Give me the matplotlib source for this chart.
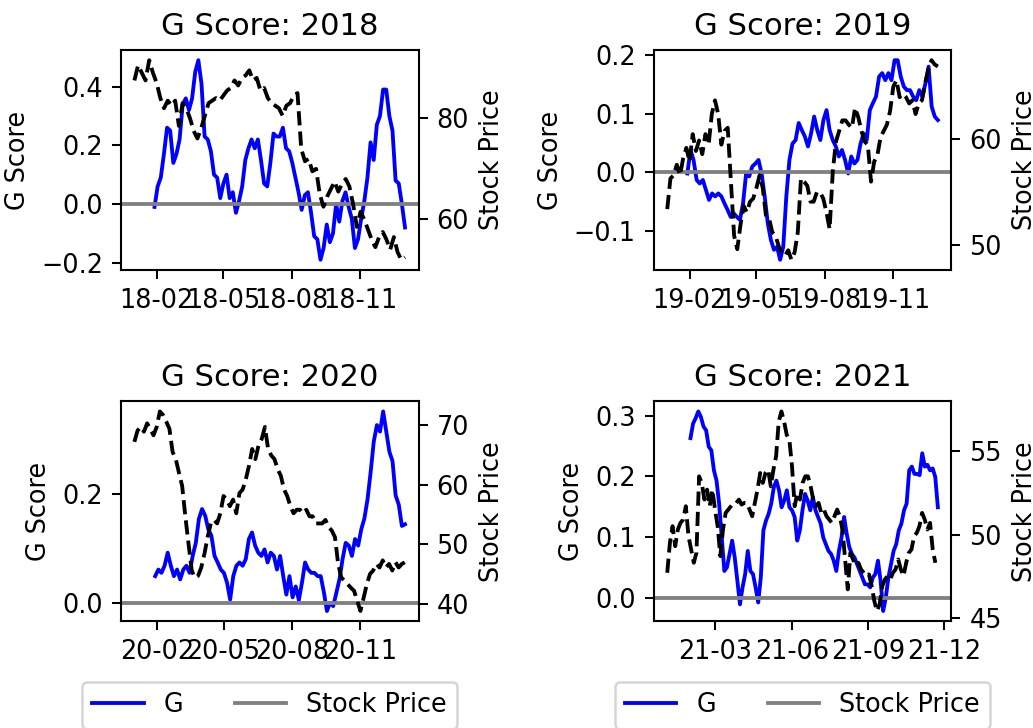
import pandas as pd
import matplotlib
matplotlib.use('Agg')
import matplotlib.pyplot as plt
import matplotlib.dates as mdates

years = [2018, 2019, 2020, 2021]

# daily close, sampled every few trading days
price_2018 = [87.5, 90.5, 89.0, 87.5, 91.5, 89.0, 87.0, 84.0, 82.0, 83.5,
              82.5, 83.5, 78.5, 83.0, 82.0, 80.0, 77.5, 76.0, 78.0, 80.5,
              83.0, 83.5, 84.0, 83.5, 84.5, 85.5, 86.0, 87.5, 86.5, 88.0,
              88.5, 89.5, 87.5, 88.0, 85.5, 86.0, 84.0, 83.0, 82.5, 82.0,
              80.5, 82.5, 83.0, 84.5, 85.0, 74.0, 71.5, 72.0, 69.5, 70.0,
              65.0, 62.5, 64.5, 66.0, 67.5, 65.5, 67.0, 68.0, 66.5, 63.0,
              58.5, 61.5, 60.0, 58.0, 56.0, 54.5, 56.5, 57.5, 56.0, 54.0,
              56.5, 53.5, 52.0, 52.5]
g_2018 = [-0.01, 0.06, 0.09, 0.17, 0.26, 0.25, 0.14, 0.17, 0.22, 0.34,
          0.36, 0.32, 0.36, 0.45, 0.49, 0.41, 0.23, 0.22, 0.18, 0.10,
          0.09, 0.02, 0.07, 0.10, 0.02, 0.04, -0.03, 0.01, 0.06, 0.15,
          0.19, 0.22, 0.19, 0.22, 0.15, 0.07, 0.06, 0.14, 0.24, 0.23,
          0.23, 0.26, 0.19, 0.18, 0.14, 0.09, 0.04, -0.02, 0.03, 0.04,
          -0.03, -0.11, -0.12, -0.19, -0.15, -0.07, -0.13, -0.10, 0.00, -0.06,
          0.01, 0.04, -0.01, -0.05, -0.15, -0.12, -0.05, 0.01, 0.09, 0.21,
          0.15, 0.27, 0.30, 0.39, 0.39, 0.30, 0.25, 0.08, 0.07, -0.00,
          -0.08]

price_2019 = [53.4, 56.3, 56.6, 57.6, 56.6, 58.2, 59.2, 57.9, 60.5, 58.9,
              59.9, 58.6, 60.5, 59.5, 62.4, 63.7, 62.4, 59.5, 60.8, 61.1,
              56.0, 50.9, 49.6, 51.9, 53.7, 53.1, 54.1, 54.4, 55.4, 56.6,
              55.4, 52.8, 52.5, 51.2, 50.9, 49.9, 49.3, 49.0, 49.5, 48.6,
              49.3, 51.2, 56.3, 56.0, 55.6, 54.1, 54.1, 55.0, 55.0, 54.4,
              53.1, 51.5, 57.0, 59.8, 60.8, 61.8, 61.8, 61.4, 61.1, 63.0,
              62.1, 60.8, 59.8, 59.5, 56.0, 57.9, 58.5, 60.2, 60.8, 61.4,
              62.7, 65.0, 65.6, 64.0, 64.3, 64.0, 63.4, 63.7, 62.4, 63.4,
              63.7, 65.3, 66.6, 67.5, 67.1, 66.9]
g_2019 = [-0.002, 0.038, 0.021, -0.013, -0.019, -0.013, -0.030, -0.047, -0.036, -0.041,
          -0.036, -0.041, -0.053, -0.064, -0.076, -0.070, -0.076, -0.081, -0.053, -0.002,
          -0.007, 0.010, 0.015, 0.021, -0.002, -0.041, -0.087, -0.115, -0.132, -0.127,
          -0.149, -0.127, -0.041, 0.021, 0.049, 0.055, 0.084, 0.072, 0.061, 0.044,
          0.066, 0.095, 0.072, 0.055, 0.089, 0.106, 0.072, 0.055, 0.044, 0.027,
          0.038, 0.021, -0.002, 0.027, 0.015, 0.021, 0.049, 0.066, 0.055, 0.106,
          0.118, 0.129, 0.163, 0.169, 0.157, 0.169, 0.157, 0.191, 0.191, 0.163,
          0.146, 0.140, 0.140, 0.129, 0.123, 0.140, 0.129, 0.152, 0.180, 0.112,
          0.095, 0.089]

price_2020 = [67.2, 69.1, 69.7, 68.9, 70.3, 69.4, 68.3, 69.7, 72.3, 71.7,
              70.6, 69.4, 65.5, 64.3, 62.0, 59.8, 54.7, 50.1, 45.6, 44.4,
              44.7, 46.1, 48.4, 51.2, 53.5, 54.1, 53.5, 55.2, 58.1, 57.5,
              56.4, 57.5, 55.2, 58.6, 59.2, 60.9, 63.2, 66.0, 64.3, 66.6,
              67.7, 69.7, 66.0, 64.9, 64.3, 62.6, 61.5, 59.2, 58.1, 56.4,
              55.2, 55.8, 55.8, 55.2, 55.8, 54.7, 54.7, 53.5, 53.5, 53.5,
              54.1, 52.9, 52.3, 51.2, 46.7, 44.4, 43.9, 43.3, 42.7, 42.2,
              40.5, 38.8, 41.0, 43.3, 45.0, 45.6, 46.7, 46.1, 47.3, 46.1,
              46.7, 45.6, 47.0, 46.1, 46.7, 47.0]
g_2020 = [0.049, 0.061, 0.055, 0.068, 0.092, 0.068, 0.049, 0.061, 0.043, 0.061,
          0.068, 0.055, 0.086, 0.110, 0.154, 0.172, 0.160, 0.135, 0.123, 0.086,
          0.074, 0.061, 0.055, 0.037, 0.006, 0.049, 0.068, 0.074, 0.068, 0.080,
          0.117, 0.129, 0.105, 0.092, 0.086, 0.098, 0.074, 0.092, 0.086, 0.061,
          0.086, 0.049, 0.015, 0.049, 0.010, 0.030, 0.005, 0.037, 0.074, 0.061,
          0.055, 0.055, 0.049, 0.049, 0.020, -0.015, 0.000, -0.006, 0.018, 0.043,
          0.080, 0.110, 0.105, 0.086, 0.117, 0.105, 0.135, 0.155, 0.190, 0.240,
          0.296, 0.326, 0.314, 0.351, 0.314, 0.277, 0.260, 0.197, 0.180, 0.141,
          0.144]

price_2021 = [47.7, 49.5, 50.5, 49.3, 50.3, 50.7, 50.9, 51.7, 49.9, 49.1,
              48.3, 48.9, 53.5, 53.1, 52.1, 52.7, 51.7, 52.7, 51.5, 50.5,
              48.7, 50.3, 51.3, 51.5, 51.7, 51.9, 51.9, 52.1, 51.8, 51.9,
              51.9, 51.5, 51.1, 51.9, 52.7, 53.7, 53.1, 53.7, 53.9, 52.9,
              53.9, 54.7, 56.8, 57.4, 56.8, 56.0, 55.7, 54.1, 51.7, 52.5,
              52.1, 53.1, 53.5, 53.5, 52.9, 52.1, 51.7, 51.9, 51.3, 51.5,
              51.1, 50.9, 50.7, 51.1, 51.5, 51.1, 50.3, 48.5, 46.7, 48.9,
              48.5, 48.1, 48.3, 47.9, 47.7, 47.5, 47.6, 46.9, 46.0, 45.4,
              45.8, 46.9, 47.3, 47.5, 47.3, 47.7, 47.9, 48.5, 47.9, 47.5,
              48.3, 48.9, 49.1, 49.9, 50.1, 50.5, 51.3, 50.9, 50.3, 50.7,
              49.1, 48.3]
g_2021 = [0.263, 0.287, 0.296, 0.307, 0.298, 0.282, 0.276, 0.249, 0.243, 0.210,
          0.193, 0.155, 0.100, 0.044, 0.050, 0.072, 0.094, 0.066, 0.028, -0.011,
          0.017, 0.039, 0.077, 0.044, 0.039, 0.017, -0.008, 0.033, 0.111, 0.127,
          0.138, 0.155, 0.182, 0.193, 0.177, 0.149, 0.160, 0.177, 0.149, 0.144,
          0.133, 0.094, 0.111, 0.144, 0.171, 0.160, 0.144, 0.166, 0.144, 0.133,
          0.122, 0.099, 0.088, 0.077, 0.072, 0.061, 0.044, 0.077, 0.099, 0.133,
          0.105, 0.083, 0.072, 0.066, 0.055, 0.044, 0.033, 0.022, 0.022, 0.017,
          0.033, 0.039, 0.061, 0.028, -0.022, 0.000, 0.033, 0.055, 0.077, 0.088,
          0.111, 0.122, 0.144, 0.155, 0.210, 0.216, 0.204, 0.204, 0.202, 0.238,
          0.216, 0.219, 0.210, 0.213, 0.199, 0.149]

prices = [price_2018, price_2019, price_2020, price_2021]
scores = [g_2018, g_2019, g_2020, g_2021]
price_spans = [('2018-01-02', '2018-12-31'), ('2019-01-02', '2019-12-31'),
               ('2020-01-02', '2020-12-31'), ('2021-01-02', '2021-11-21')]
score_spans = [('2018-01-29', '2018-12-31'), ('2019-01-29', '2019-12-31'),
               ('2020-01-30', '2020-12-31'), ('2021-01-30', '2021-11-24')]
tick_months = [(2, 5, 8, 11), (2, 5, 8, 11), (2, 5, 8, 11), (3, 6, 9, 12)]

fig, axs = plt.subplots(2, 2, figsize=(1033 / 184, 728 / 184), dpi=184)
fig.subplots_adjust(left=0.117, right=0.921, bottom=0.147, top=0.931,
                    wspace=0.79, hspace=0.60)

for i, ax in enumerate(axs.flat):
    g_dates = pd.date_range(*score_spans[i], periods=len(scores[i]))
    p_dates = pd.date_range(*price_spans[i], periods=len(prices[i]))

    g_line, = ax.plot(g_dates, scores[i], color='blue')
    zero_line = ax.axhline(0, color='gray')
    ax.set_ylabel('G Score')
    ax.set_title(f'G Score: {years[i]}')

    ax2 = ax.twinx()
    ax2.plot(p_dates, prices[i], 'k--')
    ax2.set_ylabel('Stock Price')

    ax.xaxis.set_major_locator(mdates.MonthLocator(bymonth=tick_months[i]))
    ax.xaxis.set_major_formatter(mdates.DateFormatter('%y-%m'))

    if i >= 2:
        ax.legend([g_line, zero_line], ['G', 'Stock Price'], loc='upper center',
                  bbox_to_anchor=(0.5, -0.22), ncol=2)

fig.savefig('out.png', dpi=184)
